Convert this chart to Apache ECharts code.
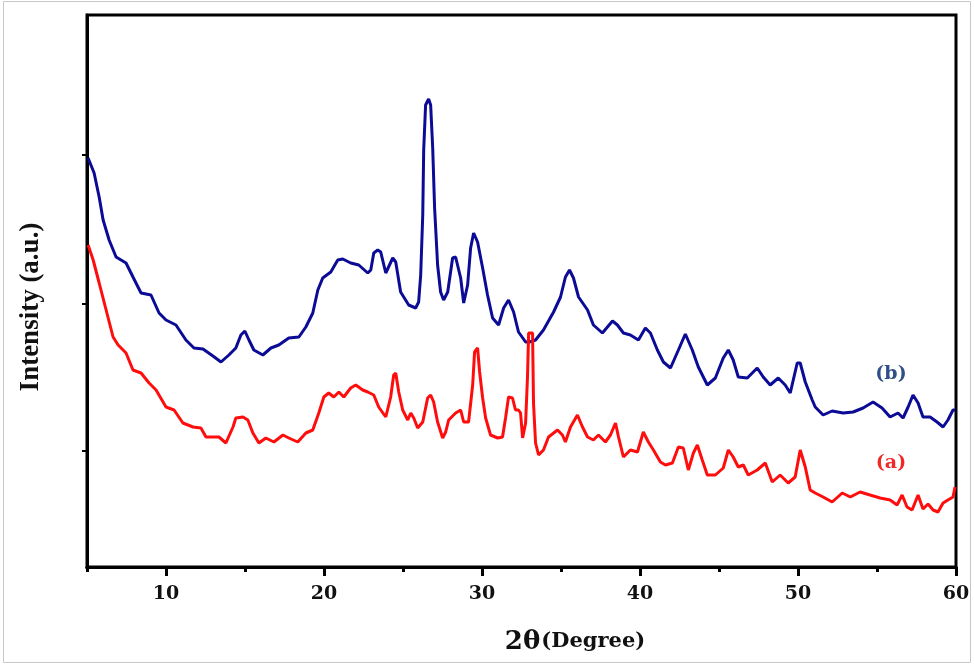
<!DOCTYPE html>
<html>
<head>
<meta charset="utf-8">
<script src="https://cdn.jsdelivr.net/npm/echarts@6/dist/echarts.min.js"></script>
<style>
  html, body { margin: 0; padding: 0; background: #fff; }
  #chart { width: 974px; height: 666px; }
</style>
</head>
<body>
<div id="chart"></div>
<script>
// Axis ticks
const xTicks = [10, 20, 30, 40, 50, 60];
const xMinorTicks = [5, 15, 25, 35, 45, 55];
const yTicks = [232, 526, 824];

// XRD pattern (b)
const thetaB = [5.07, 5.45, 5.77, 6.02, 6.40, 6.84, 7.47, 7.91, 8.42, 9.05, 9.56, 10.00, 10.63, 11.26, 11.77, 12.34, 12.97, 13.48, 13.98, 14.42,
  14.74, 14.99, 15.25, 15.56, 16.13, 16.64, 17.14, 17.77, 18.41, 18.85, 19.29, 19.61, 19.92, 20.43, 20.87, 21.19, 21.69, 22.20, 22.77, 22.96,
  23.15, 23.40, 23.59, 23.91, 24.35, 24.54, 24.85, 25.36, 25.80, 25.99, 26.12, 26.25, 26.31, 26.43, 26.62, 26.75, 26.88, 27.00, 27.19, 27.38,
  27.57, 27.83, 28.14, 28.33, 28.65, 28.84, 29.09, 29.28, 29.47, 29.72, 30.04, 30.35, 30.67, 31.05, 31.37, 31.68, 32.00, 32.31, 32.76, 33.00,
  33.39, 33.89, 34.53, 34.97, 35.28, 35.54, 35.79, 36.11, 36.68, 37.05, 37.62, 37.94, 38.26, 38.57, 38.95, 39.39, 39.90, 40.34, 40.66, 41.10,
  41.48, 41.93, 42.43, 42.87, 43.31, 43.69, 44.26, 44.77, 45.27, 45.59, 45.90, 46.22, 46.79, 47.42, 47.80, 48.24, 48.75, 49.19, 49.51, 49.95,
  50.14, 50.46, 50.90, 51.09, 51.59, 52.16, 52.86, 53.49, 54.12, 54.75, 55.32, 55.83, 56.33, 56.65, 56.97, 57.28, 57.60, 57.91, 58.36, 58.80,
  59.18, 59.49, 59.81, 59.94];
const intensityB = [818, 788, 740, 694, 654, 620, 608, 580, 548, 544, 508, 494, 484, 454, 438, 436, 422, 410, 424, 438,
  464, 472, 454, 434, 424, 438, 444, 458, 460, 480, 508, 554, 578, 590, 614, 616, 608, 604, 588, 594,
  628, 634, 630, 588, 618, 610, 550, 524, 518, 530, 584, 704, 834, 924, 936, 924, 838, 718, 604, 550,
  534, 550, 618, 620, 578, 528, 564, 638, 668, 650, 598, 544, 498, 484, 518, 534, 510, 470, 450, 450,
  454, 474, 510, 540, 580, 594, 578, 540, 514, 484, 468, 480, 492, 484, 468, 464, 454, 478, 468, 434,
  410, 398, 434, 466, 434, 400, 364, 378, 418, 434, 414, 380, 378, 398, 380, 364, 378, 364, 348, 408,
  408, 370, 334, 320, 304, 312, 308, 310, 318, 330, 318, 300, 308, 298, 320, 344, 328, 300, 300, 290,
  280, 294, 314, 314];

// XRD pattern (a)
const thetaA = [5.07, 5.39, 5.77, 6.21, 6.65, 6.97, 7.47, 7.91, 8.42, 8.93, 9.37, 10.00, 10.51, 11.07, 11.71, 12.21, 12.53, 13.03, 13.35, 13.79,
  14.24, 14.42, 14.87, 15.18, 15.50, 15.88, 16.32, 16.83, 17.40, 17.77, 18.34, 18.85, 19.29, 19.67, 19.99, 20.30, 20.62, 20.94, 21.25, 21.69,
  22.01, 22.45, 22.77, 23.15, 23.46, 23.91, 24.22, 24.41, 24.54, 24.73, 24.98, 25.30, 25.49, 25.68, 25.93, 26.25, 26.56, 26.75, 26.94, 27.19,
  27.51, 27.70, 27.89, 28.33, 28.65, 28.84, 29.15, 29.41, 29.53, 29.72, 29.85, 30.04, 30.23, 30.54, 30.99, 31.30, 31.49, 31.68, 31.93, 32.12,
  32.31, 32.44, 32.57, 32.63, 32.76, 32.88, 32.95, 33.20, 33.26, 33.39, 33.58, 33.89, 34.21, 34.78, 35.09, 35.28, 35.60, 36.04, 36.36, 36.68,
  37.05, 37.37, 37.81, 38.13, 38.45, 38.64, 38.95, 39.39, 39.84, 40.21, 40.53, 40.85, 41.29, 41.61, 42.05, 42.43, 42.74, 43.06, 43.38, 43.63,
  43.94, 44.26, 44.77, 45.27, 45.59, 45.90, 46.22, 46.54, 46.85, 47.42, 47.93, 48.37, 48.87, 49.38, 49.82, 50.14, 50.46, 50.77, 51.09, 51.59,
  52.16, 52.80, 53.31, 53.93, 54.56, 55.20, 55.83, 56.27, 56.59, 56.90, 57.22, 57.60, 57.91, 58.23, 58.55, 58.86, 59.18, 59.49, 59.81, 59.94];
const intensityA = [644, 614, 568, 514, 460, 444, 428, 394, 388, 368, 354, 320, 314, 288, 280, 278, 260, 260, 260, 248,
  280, 298, 300, 294, 268, 248, 258, 250, 264, 258, 250, 268, 274, 308, 340, 348, 340, 350, 340, 358,
  364, 354, 350, 344, 320, 300, 340, 384, 388, 350, 314, 294, 308, 298, 278, 290, 338, 344, 330, 290,
  258, 270, 294, 308, 314, 290, 290, 364, 430, 438, 390, 338, 298, 264, 258, 260, 298, 340, 338, 314,
  314, 308, 258, 254, 288, 380, 468, 468, 328, 248, 224, 234, 260, 274, 264, 250, 280, 304, 280, 260,
  254, 264, 250, 264, 288, 260, 220, 234, 230, 270, 250, 234, 210, 204, 208, 240, 238, 194, 228, 244,
  214, 184, 184, 198, 234, 220, 200, 204, 184, 194, 208, 170, 184, 168, 180, 234, 200, 154, 148, 140,
  130, 148, 140, 150, 144, 138, 134, 124, 144, 120, 114, 144, 116, 126, 114, 110, 128, 134, 140, 160];

const zip = (xs, ys) => xs.map((x, i) => [x, ys[i]]);

const serif = '"Liberation Serif", "Times New Roman", serif';
const wideSerif = '"DejaVu Serif", "Liberation Serif", serif';
const chart = echarts.init(document.getElementById('chart'), null, { renderer: 'canvas' });

chart.setOption({
  animation: false,
  backgroundColor: '#fff',
  grid: {
    left: 87, right: 18, top: 15, bottom: 99,
    show: true, borderColor: '#000', borderWidth: 3,
    backgroundColor: 'transparent'
  },
  xAxis: [{
    type: 'value', min: 5, max: 60,
    axisLine: { lineStyle: { color: '#000', width: 3 } },
    axisTick: { customValues: xTicks, length: 9, lineStyle: { color: '#000', width: 3 } },
    axisLabel: {
      customValues: xTicks, margin: 18,
      color: '#111', fontFamily: wideSerif, fontWeight: 'bold', fontSize: 19
    },
    splitLine: { show: false }
  }, {
    // half-decade ticks
    type: 'value', min: 5, max: 60, position: 'bottom', offset: 0,
    axisLine: { show: true, lineStyle: { color: '#000', width: 3 } },
    axisTick: { show: true, customValues: xMinorTicks, length: 5, lineStyle: { color: '#000', width: 3 } },
    axisLabel: { show: false, customValues: xMinorTicks },
    splitLine: { show: false }
  }],
  yAxis: {
    type: 'value', min: 0, max: 1104,
    axisLine: { lineStyle: { color: '#000', width: 3 } },
    axisTick: { customValues: yTicks, length: 5, lineStyle: { color: '#000', width: 2 } },
    axisLabel: { show: false, customValues: yTicks },
    splitLine: { show: false }
  },
  graphic: [
    { type: 'rect', shape: { x: 3.5, y: 1.5, width: 967, height: 661 }, style: { fill: 'none', stroke: '#c8c8c8', lineWidth: 1 }, silent: true },
    {
      type: 'text', x: 31, y: 307, rotation: Math.PI / 2,
      style: {
        text: 'Intensity (a.u.)', fill: '#111', font: 'bold 27px ' + serif,
        textAlign: 'center', textVerticalAlign: 'middle'
      }
    },
    {
      type: 'text', x: 575, y: 642,
      style: {
        text: '{a|2θ}{b|(Degree)}',
        textAlign: 'center', textVerticalAlign: 'middle',
        rich: {
          a: { fontFamily: wideSerif, fontWeight: 'bold', fontSize: 26, fill: '#111', padding: [0, 1, 0, 0] },
          b: { fontFamily: wideSerif, fontWeight: 'bold', fontSize: 21, fill: '#111' }
        }
      }
    },
    {
      type: 'text', x: 891, y: 374,
      style: { text: '(b)', fill: '#2f4f86', font: 'bold 19px ' + wideSerif, textAlign: 'center', textVerticalAlign: 'middle' }
    },
    {
      type: 'text', x: 891, y: 463,
      style: { text: '(a)', fill: '#f02828', font: 'bold 19px ' + wideSerif, textAlign: 'center', textVerticalAlign: 'middle' }
    }
  ],
  series: [{
    name: '(b)', type: 'line', xAxisIndex: 0, data: zip(thetaB, intensityB),
    showSymbol: false, smooth: false,
    lineStyle: { color: '#0b0b96', width: 3 }
  }, {
    name: '(a)', type: 'line', xAxisIndex: 0, data: zip(thetaA, intensityA),
    showSymbol: false, smooth: false,
    lineStyle: { color: '#ff0d0d', width: 3 }
  }]
});
</script>
</body>
</html>
